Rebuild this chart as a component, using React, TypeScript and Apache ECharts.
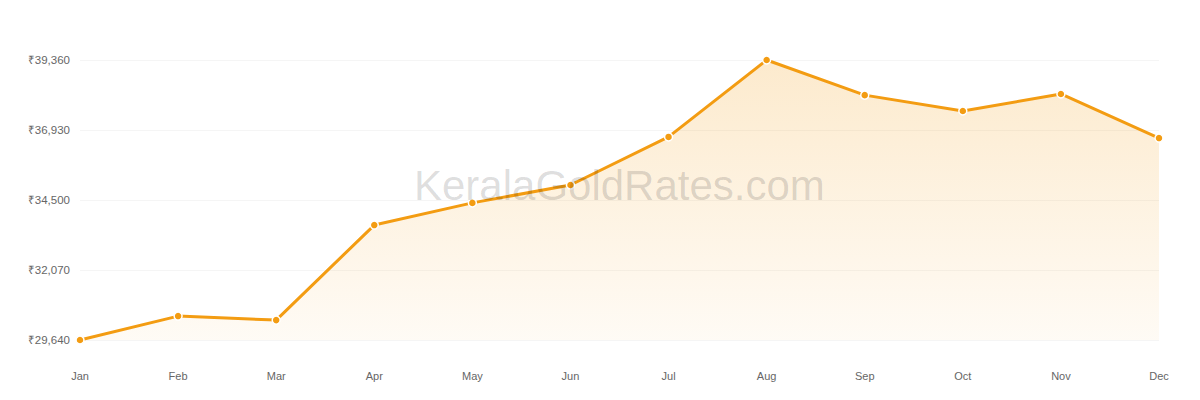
import React, { useEffect, useRef } from 'react';
import * as echarts from 'echarts';

const months = ['Jan', 'Feb', 'Mar', 'Apr', 'May', 'Jun', 'Jul', 'Aug', 'Sep', 'Oct', 'Nov', 'Dec'];
const prices = [29640, 30470, 30330, 33630, 34400, 35020, 36690, 39360, 38140, 37590, 38180, 36650];
const yTicks = [29640, 32070, 34500, 36930, 39360];

const GOLD = '#f39c12';

const App: React.FC = () => {
  const chartRef = useRef<HTMLDivElement>(null);

  useEffect(() => {
    if (!chartRef.current) return;
    const chart = echarts.init(chartRef.current, undefined, { renderer: 'svg' });

    chart.setOption({
      animation: false,
      grid: { left: 80, right: 41, top: 60, bottom: 60 },
      xAxis: {
        type: 'category',
        data: months,
        boundaryGap: false,
        axisLine: { show: false },
        axisTick: { show: false },
        axisLabel: {
          color: '#666',
          fontSize: 11,
          fontFamily: 'Liberation Sans, Arial, sans-serif',
          margin: 30,
        },
      },
      yAxis: {
        type: 'value',
        min: yTicks[0],
        max: yTicks[yTicks.length - 1],
        axisLine: { show: false },
        axisTick: { show: false, customValues: yTicks },
        axisLabel: {
          customValues: yTicks,
          color: '#666',
          fontSize: 11.5,
          fontFamily: 'Liberation Sans, Arial, sans-serif',
          margin: 10,
          formatter: (v: number) => '₹' + v.toLocaleString('en-US'),
        },
        splitLine: { show: true, lineStyle: { color: '#f5f5f5', width: 1 } },
      },
      series: [
        {
          type: 'line',
          data: prices,
          smooth: false,
          symbol: 'circle',
          symbolSize: 8,
          lineStyle: { color: GOLD, width: 3 },
          itemStyle: { color: GOLD, borderColor: '#fff', borderWidth: 1.5 },
          areaStyle: {
            color: new echarts.graphic.LinearGradient(0, 0, 0, 1, [
              { offset: 0, color: 'rgba(243,156,18,0.3)' },
              { offset: 1, color: 'rgba(243,156,18,0.06)' },
            ]),
          },
          z: 2,
        },
      ],
      graphic: [
        {
          type: 'text',
          left: 414,
          top: 164,
          z: 100,
          style: {
            text: 'KeralaGoldRates.com',
            fontSize: 42,
            fontFamily: 'Liberation Sans, Arial, sans-serif',
            fill: 'rgba(0,0,0,0.14)',
          },
        },
      ],
    });

    return () => {
      chart.dispose();
    };
  }, []);

  return <div ref={chartRef} style={{ width: 1200, height: 400, margin: -8 }} />;
};

export default App;
